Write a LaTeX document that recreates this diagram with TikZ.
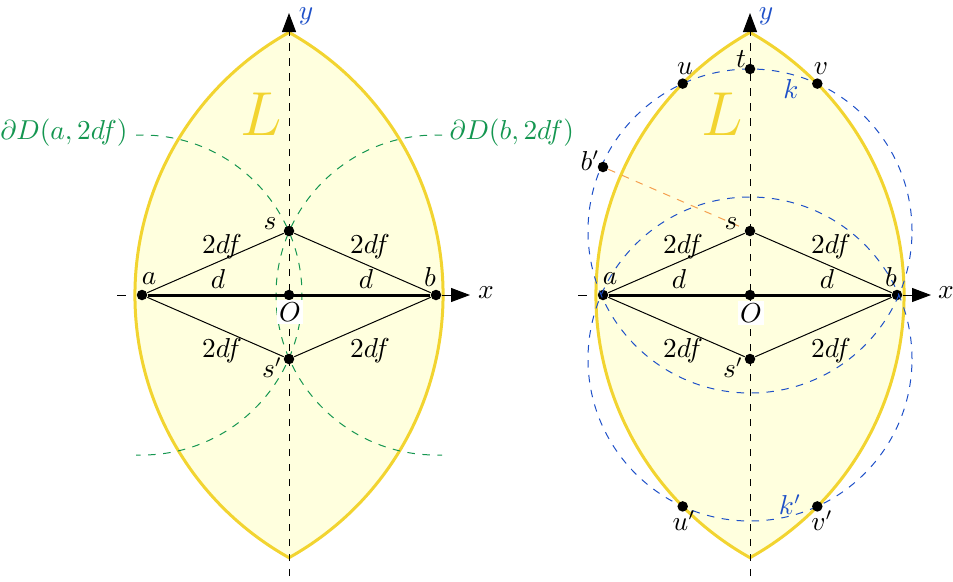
\documentclass[tikz,border=0pt]{standalone}
\usetikzlibrary{arrows.meta}
\definecolor{lensgold}{RGB}{242,212,48}
\definecolor{lensfill}{RGB}{255,255,222}
\definecolor{cgreen}{RGB}{20,150,80}
\definecolor{cblue}{RGB}{30,80,200}
\definecolor{corange}{RGB}{245,160,80}
\tikzset{
  dot/.style={circle,fill=black,inner sep=0pt,minimum size=4.2pt},
  lensst/.style={draw=lensgold,line width=1.2pt,fill=lensfill},
  thinln/.style={line width=0.4pt},
  thickln/.style={line width=1.2pt},
  axisarrow/.style={-{Triangle[length=7.6pt,width=5.6pt]}},
  greendash/.style={cgreen,dashed,line width=0.4pt},
  bluedash/.style={cblue,dashed,line width=0.4pt},
  orangedash/.style={corange,dashed,line width=0.4pt},
  lbl/.style={inner sep=0pt,font=\fontsize{10.6}{13}\selectfont},
  biglbl/.style={inner sep=0pt,text=lensgold,font=\fontsize{26}{30}\selectfont},
  olbl/.style={fill=white,inner sep=1pt,font=\fontsize{10.6}{13}\selectfont},
}
\begin{document}
\begin{tikzpicture}[x=0.4pt,y=0.4pt]
\useasboundingbox (0,0) rectangle (953,-581);
% ---------------- left diagram ----------------
\begin{scope}[shift={(289,-295)}]
  \path[lensst] (0,-262.7) arc[start angle=-60.77,end angle=60.77,radius=120.4pt]
        arc[start angle=119.23,end angle=240.77,radius=120.4pt] -- cycle;
  \node[biglbl] (LL) at (-28,181) {$L$};
  \coordinate (xsL) at (-172,0); \coordinate (xgL) at (-163,0); \coordinate (xeL) at (181,0);
  \coordinate (ysL) at (0,-281); \coordinate (yeL) at (0,282);
  \draw[greendash] (-153,160) -- (-147,160) arc[start angle=90,end angle=-90,radius=64pt] -- (-153,-160);
  \draw[greendash] (153,160) -- (147,160) arc[start angle=90,end angle=270,radius=64pt] -- (153,-160);
  \node[lbl,anchor=east,text=cgreen] (dA) at (-161,162) {$\partial D(a,2df)$};
  \node[lbl,anchor=west,text=cgreen] (dB) at (160,162) {$\partial D(b,2df)$};
  \draw[dashed,thinln,axisarrow] (ysL) -- (yeL);
  \node[dot] (aL) at (-147,0) {};
  \node[dot] (bL) at (147,0) {};
  \node[dot] (OL) at (0,0) {};
  \node[dot] (sL) at (0,64) {};
  \node[dot] (spL) at (0,-64) {};
  \draw[thinln] (xsL) -- (xgL);
  \draw[thinln,axisarrow] (bL) -- (xeL);
  \draw[thickln] (aL) -- (bL);
  \draw[thinln] (aL) -- (sL) -- (bL);
  \draw[thinln] (aL) -- (spL) -- (bL);
  \node[lbl] at (-67,48) {$2df$};
  \node[lbl] at (81,48) {$2df$};
  \node[lbl] at (-67,-56) {$2df$};
  \node[lbl] at (81,-56) {$2df$};
  \node[lbl] at (-71,16) {$d$};
  \node[lbl] at (77,16) {$d$};
  \node[lbl] at (-140,16) {$a$};
  \node[lbl] at (141,18) {$b$};
  \node[lbl] at (-19,71) {$s$};
  \node[lbl] at (-17,-73) {$s'$};
  \node[olbl] at (1,-17) {$O$};
  \node[lbl] at (197,2) {$x$};
  \node[lbl,text=cblue] at (17,279) {$y$};
\end{scope}
% ---------------- right diagram ----------------
\begin{scope}[shift={(750,-295)}]
  \path[lensst] (0,-262.7) arc[start angle=-60.77,end angle=60.77,radius=120.4pt]
        arc[start angle=119.23,end angle=240.77,radius=120.4pt] -- cycle;
  \node[biglbl] (LR) at (-28,181) {$L$};
  \coordinate (xsR) at (-172,0); \coordinate (xgR) at (-163,0); \coordinate (xeR) at (181,0);
  \coordinate (ysR) at (0,-281); \coordinate (yeR) at (0,282);
  \draw[dashed,thinln,axisarrow] (ysR) -- (yeR);
  \node[dot] (aR) at (-147,0) {};
  \node[dot] (bR) at (147,0) {};
  \node[dot] (OR) at (0,0) {};
  \node[dot] (sR) at (0,64) {};
  \node[dot] (spR) at (0,-64) {};
  \draw[bluedash] (sR.center) circle[radius=64.8pt];
  \draw[bluedash] (spR.center) circle[radius=64.8pt];
  \node[dot] (tR) at (0,226) {};
  \node[dot] (uR) at (-67.3,211.4) {};
  \node[dot] (vR) at (67.3,211.4) {};
  \node[dot] (upR) at (-67.3,-211.4) {};
  \node[dot] (vpR) at (67.3,-211.4) {};
  \node[dot] (bpR) at (-147,128) {};
  \draw[orangedash] (bpR) -- (sR);
  \draw[thinln] (xsR) -- (xgR);
  \draw[thinln,axisarrow] (bR) -- (xeR);
  \draw[thickln] (aR) -- (bR);
  \draw[thinln] (aR) -- (sR) -- (bR);
  \draw[thinln] (aR) -- (spR) -- (bR);
  \node[lbl] at (-67,48) {$2df$};
  \node[lbl] at (81,48) {$2df$};
  \node[lbl] at (-67,-56) {$2df$};
  \node[lbl] at (81,-56) {$2df$};
  \node[lbl] at (-71,16) {$d$};
  \node[lbl] at (77,16) {$d$};
  \node[lbl] at (-140,16) {$a$};
  \node[lbl] at (141,18) {$b$};
  \node[lbl] at (-19,71) {$s$};
  \node[lbl] at (-17,-73) {$s'$};
  \node[lbl] at (-9,236) {$t$};
  \node[lbl] at (-65,226) {$u$};
  \node[lbl] at (71,226) {$v$};
  \node[lbl] at (-66,-226) {$u'$};
  \node[lbl] at (72,-226) {$v'$};
  \node[lbl] at (-160,134) {$b'$};
  \node[lbl,text=cblue] at (41,206) {$k$};
  \node[lbl,text=cblue] at (40,-210) {$k'$};
  \node[olbl] at (1,-18) {$O$};
  \node[lbl] at (196,2) {$x$};
  \node[lbl,text=cblue] at (16,279) {$y$};
\end{scope}
\end{tikzpicture}
\end{document}
